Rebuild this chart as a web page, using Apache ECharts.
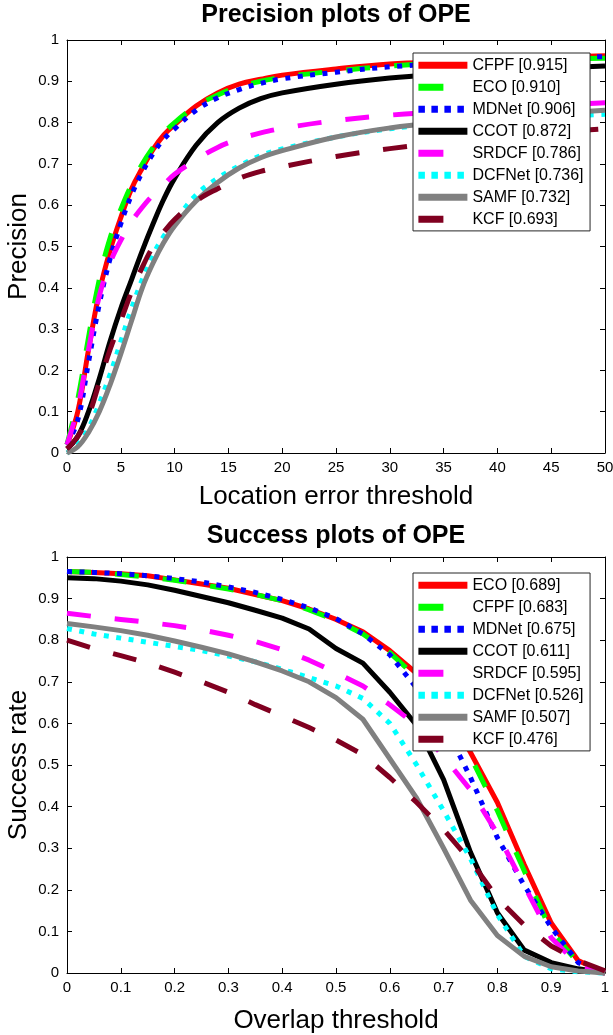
<!DOCTYPE html>
<html>
<head>
<meta charset="utf-8">
<script src="https://cdn.jsdelivr.net/npm/echarts@6/dist/echarts.min.js"></script>
<style>
  html, body { margin: 0; padding: 0; background: #ffffff; }
  #chart { width: 613px; height: 1035px; }
</style>
</head>
<body>
<div id="chart"></div>
<script>
// ---- Precision plot (location error threshold, pixels) ----
const precThresholds = [0, 1, 2, 3, 4, 5, 6, 7, 8, 9, 10, 12, 14, 16, 18, 20, 25, 30, 35, 40, 45, 50];
const precTrackers = ['CFPF', 'ECO', 'MDNet', 'CCOT', 'SRDCF', 'DCFNet', 'SAMF', 'KCF'];
const precScores = [0.915, 0.910, 0.906, 0.872, 0.786, 0.736, 0.732, 0.693];

const precCFPF   = [0.02, 0.10, 0.25, 0.39, 0.49, 0.57, 0.64, 0.69, 0.735, 0.77, 0.795, 0.84, 0.872, 0.893, 0.905, 0.915, 0.93, 0.942, 0.948, 0.953, 0.958, 0.962];
const precECO    = [0.02, 0.13, 0.28, 0.42, 0.52, 0.59, 0.65, 0.70, 0.74, 0.775, 0.80, 0.84, 0.867, 0.887, 0.90, 0.910, 0.925, 0.937, 0.945, 0.95, 0.953, 0.956];
const precMDNet  = [0.02, 0.08, 0.22, 0.36, 0.47, 0.555, 0.625, 0.68, 0.725, 0.76, 0.785, 0.83, 0.86, 0.88, 0.895, 0.906, 0.922, 0.935, 0.943, 0.95, 0.955, 0.96];
const precCCOT   = [0.01, 0.04, 0.10, 0.18, 0.27, 0.35, 0.42, 0.49, 0.555, 0.615, 0.665, 0.745, 0.80, 0.835, 0.858, 0.872, 0.893, 0.908, 0.918, 0.926, 0.932, 0.937];
const precSRDCF  = [0.02, 0.11, 0.25, 0.38, 0.46, 0.515, 0.56, 0.595, 0.625, 0.65, 0.675, 0.71, 0.74, 0.76, 0.775, 0.786, 0.805, 0.818, 0.827, 0.835, 0.842, 0.848];
const precDCFNet = [0.00, 0.02, 0.06, 0.12, 0.19, 0.27, 0.35, 0.42, 0.48, 0.525, 0.56, 0.625, 0.665, 0.695, 0.72, 0.736, 0.765, 0.785, 0.798, 0.808, 0.815, 0.82];
const precSAMF   = [0.00, 0.015, 0.05, 0.10, 0.165, 0.24, 0.32, 0.40, 0.46, 0.51, 0.55, 0.61, 0.655, 0.69, 0.715, 0.732, 0.765, 0.787, 0.802, 0.813, 0.822, 0.83];
const precKCF    = [0.01, 0.04, 0.09, 0.17, 0.25, 0.32, 0.39, 0.45, 0.50, 0.535, 0.565, 0.61, 0.64, 0.665, 0.682, 0.693, 0.718, 0.737, 0.752, 0.765, 0.776, 0.785];
const precValues = [precCFPF, precECO, precMDNet, precCCOT, precSRDCF, precDCFNet, precSAMF, precKCF];

// ---- Success plot (overlap threshold) ----
const overlapThresholds = [0, 0.05, 0.1, 0.15, 0.2, 0.25, 0.3, 0.35, 0.4, 0.45, 0.5, 0.55, 0.6, 0.65, 0.7, 0.75, 0.8, 0.85, 0.9, 0.95, 1];
const succTrackers = ['ECO', 'CFPF', 'MDNet', 'CCOT', 'SRDCF', 'DCFNet', 'SAMF', 'KCF'];
const succScores = [0.689, 0.683, 0.675, 0.611, 0.595, 0.526, 0.507, 0.476];

const succECO    = [0.965, 0.963, 0.96, 0.955, 0.945, 0.935, 0.925, 0.91, 0.895, 0.875, 0.85, 0.82, 0.775, 0.72, 0.64, 0.53, 0.41, 0.26, 0.12, 0.03, 0];
const succCFPF   = [0.965, 0.963, 0.958, 0.952, 0.944, 0.934, 0.923, 0.91, 0.895, 0.873, 0.848, 0.815, 0.77, 0.71, 0.63, 0.52, 0.39, 0.245, 0.10, 0.025, 0];
const succMDNet  = [0.965, 0.963, 0.96, 0.955, 0.948, 0.94, 0.928, 0.915, 0.898, 0.878, 0.852, 0.815, 0.765, 0.685, 0.60, 0.47, 0.325, 0.21, 0.11, 0.025, 0];
const succCCOT   = [0.95, 0.948, 0.942, 0.933, 0.92, 0.905, 0.89, 0.872, 0.853, 0.827, 0.78, 0.745, 0.675, 0.595, 0.465, 0.29, 0.145, 0.055, 0.025, 0.01, 0];
const succSRDCF  = [0.865, 0.857, 0.85, 0.843, 0.835, 0.825, 0.812, 0.797, 0.777, 0.752, 0.722, 0.69, 0.645, 0.595, 0.52, 0.44, 0.335, 0.21, 0.085, 0.02, 0];
const succDCFNet = [0.828, 0.815, 0.805, 0.795, 0.785, 0.775, 0.762, 0.748, 0.73, 0.71, 0.69, 0.66, 0.60, 0.50, 0.39, 0.275, 0.14, 0.04, 0.01, 0.003, 0];
const succSAMF   = [0.84, 0.832, 0.823, 0.812, 0.798, 0.783, 0.767, 0.748, 0.726, 0.70, 0.662, 0.61, 0.515, 0.42, 0.30, 0.175, 0.09, 0.04, 0.015, 0.005, 0];
const succKCF    = [0.80, 0.78, 0.763, 0.745, 0.723, 0.70, 0.675, 0.645, 0.618, 0.59, 0.56, 0.525, 0.47, 0.41, 0.345, 0.27, 0.18, 0.115, 0.065, 0.03, 0.005];
const succValues = [succECO, succCFPF, succMDNet, succCCOT, succSRDCF, succDCFNet, succSAMF, succKCF];

// Line styles are assigned by rank (1st = red solid, 2nd = green dashed, ...)
const DASHED = [24, 24];
const DOTTED = [5, 7.5];
const rankStyles = [
  { color: '#ff0000', type: 'solid' },
  { color: '#00ff00', type: DASHED },
  { color: '#0000ff', type: DOTTED },
  { color: '#000000', type: 'solid' },
  { color: '#ff00ff', type: DASHED },
  { color: '#00ffff', type: DOTTED },
  { color: '#808080', type: 'solid' },
  { color: '#800020', type: DASHED }
];

// Legend swatches: a full bar, a single dash, or four dots (all 49 x 7)
function legendIcon(type) {
  if (type === 'solid') return 'path://M0,0H49V7H0Z';
  if (type === DASHED) return 'path://M0,0H25V7H0ZM49,0L49,7';
  return 'path://M0,0H6.5V7H0ZM13,0H19.5V7H13ZM26,0H32.5V7H26ZM39,0H45.5V7H39ZM49,0L49,7';
}

const FONT = '"Liberation Sans", Arial, Helvetica, sans-serif';
const INK = '#000000';

function seriesFor(names, scores, values, xs, xIdx, yIdx, smooth) {
  return names.map((n, i) => ({
    name: n + ' [' + scores[i].toFixed(3) + ']',
    type: 'line',
    xAxisIndex: xIdx,
    yAxisIndex: yIdx,
    data: xs.map((x, k) => [x, values[i][k]]),
    showSymbol: false,
    symbol: 'none',
    smooth: smooth,
    clip: false,
    color: rankStyles[i].color,
    itemStyle: { color: rankStyles[i].color },
    lineStyle: { color: rankStyles[i].color, width: 5, type: rankStyles[i].type, join: 'round' },
    emphasis: { disabled: true },
    z: 2 + i * 0.01,
    silent: true,
    animation: false
  }));
}

function legendFor(names, scores, top) {
  return {
    orient: 'vertical',
    left: 413,
    top: top,
    itemWidth: 49,
    itemHeight: 7,
    itemGap: 4,
    padding: [3.3, 6.5, 2.6, 5.4],
    backgroundColor: '#ffffff',
    borderColor: '#262626',
    borderWidth: 1,
    selectedMode: false,
    itemStyle: { borderWidth: 0 },
    textStyle: { fontFamily: FONT, fontSize: 16, color: INK, lineHeight: 18 },
    data: names.map((n, i) => ({ name: n + ' [' + scores[i].toFixed(3) + ']', icon: legendIcon(rankStyles[i].type) }))
  };
}

function axisPair(kind, gridIndex, min, max, interval, opts) {
  const line = { show: true, onZero: false, lineStyle: { color: INK, width: 1 } };
  const tick = { show: true, inside: true, length: 5, lineStyle: { color: INK, width: 1 } };
  const main = {
    type: 'value', gridIndex, min, max, interval,
    position: kind === 'x' ? 'bottom' : 'left',
    axisLine: line, axisTick: tick,
    axisLabel: { fontFamily: FONT, fontSize: 15, color: INK, margin: kind === 'x' ? 7 : 8 },
    splitLine: { show: false },
    name: opts.name, nameLocation: 'middle', nameGap: opts.nameGap,
    nameMoveOverlap: false,
    nameTextStyle: { fontFamily: FONT, fontSize: 26, color: INK }
  };
  const mirror = {
    type: 'value', gridIndex, min, max, interval,
    position: kind === 'x' ? 'top' : 'right',
    axisLine: line, axisTick: tick,
    axisLabel: { show: false },
    splitLine: { show: false }
  };
  return [main, mirror];
}

const xAxes = [
  ...axisPair('x', 0, 0, 50, 5, { name: 'Location error threshold', nameGap: 31 }),
  ...axisPair('x', 1, 0, 1, 0.1, { name: 'Overlap threshold', nameGap: 35 })
];
const yAxes = [
  ...axisPair('y', 0, 0, 1, 0.1, { name: 'Precision', nameGap: 35 }),
  ...axisPair('y', 1, 0, 1, 0.1, { name: 'Success rate', nameGap: 35 })
];

const option = {
  animation: false,
  backgroundColor: '#ffffff',
  title: [
    { text: 'Precision plots of OPE', left: 336, top: 3, textAlign: 'center', padding: 0,
      textStyle: { fontFamily: FONT, fontSize: 25, fontWeight: 'bold', color: INK } },
    { text: 'Success plots of OPE', left: 336, top: 524, textAlign: 'center', padding: 0,
      textStyle: { fontFamily: FONT, fontSize: 25, fontWeight: 'bold', color: INK } }
  ],
  grid: [
    { left: 67, top: 40, width: 538, height: 413, containLabel: false, outerBoundsMode: 'none' },
    { left: 67, top: 557, width: 538, height: 416, containLabel: false, outerBoundsMode: 'none' }
  ],
  xAxis: xAxes,
  yAxis: yAxes,
  legend: [
    legendFor(precTrackers, precScores, 53),
    legendFor(succTrackers, succScores, 573)
  ],
  series: [
    ...seriesFor(precTrackers, precScores, precValues, precThresholds, 0, 0, 0.4),
    ...seriesFor(succTrackers, succScores, succValues, overlapThresholds, 2, 2, false)
  ]
};

const chart = echarts.init(document.getElementById('chart'), null, { renderer: 'canvas' });
chart.setOption(option);
</script>
</body>
</html>
